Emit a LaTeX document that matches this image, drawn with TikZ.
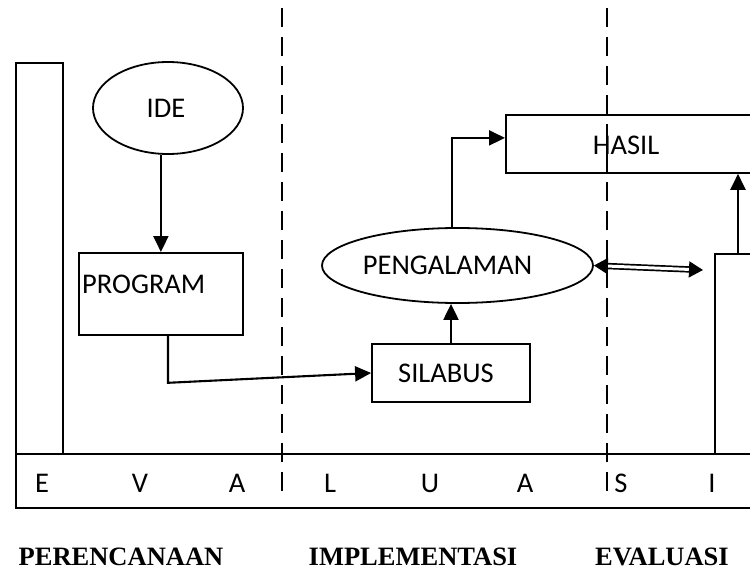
\documentclass[tikz,border=0pt]{standalone}
\usepackage{fontspec}
\setmainfont{Carlito}
\newfontfamily\labelfont{Liberation Serif}
\usetikzlibrary{shapes.geometric,arrows.meta}
\begin{document}
\begin{tikzpicture}[x=1pt,y=-1pt,
  every node/.style={font=\fontsize{28.5}{31}\selectfont},
  box/.style={draw,line width=1.8pt,inner sep=0pt},
  oval/.style={draw,ellipse,line width=1.8pt,inner sep=0pt},
  arr/.style={line width=2.1pt,-{Triangle[length=16pt,width=15pt]}},
  dbl/.style={line width=1.7pt,double distance=3pt,{Triangle[length=14pt,width=16pt]}-{Triangle[length=14pt,width=16pt]}},
  dashline/.style={line width=2.4pt,dash pattern=on 19pt off 10pt},
  letter/.style={anchor=base,inner sep=0pt},
  phase/.style={anchor=base,inner sep=0pt,font=\labelfont\bfseries\fontsize{26.5}{29}\selectfont}]
\useasboundingbox (0,0) rectangle (750,578);
\clip (0,0) rectangle (750,578);
\fill[white] (0,0) rectangle (750,578);

% frame pieces
\node[box,anchor=north west,minimum width=47pt,minimum height=391pt] (lbar) at (15,62) {};
\node[box,anchor=north west,minimum width=780pt,minimum height=54pt] (band) at (15,453) {};
\node[box,anchor=north west,minimum width=80pt,minimum height=200pt] (rbox) at (714,253) {};

% band letters
\node[letter] (l1) at (42,492) {E};
\node[letter] (l2) at (140,492) {V};
\node[letter] (l3) at (237,492) {A};
\node[letter] (l4) at (330,492) {L};
\node[letter] (l5) at (430,492) {U};
\node[letter] (l6) at (525,492) {A};
\node[letter] (l7) at (621,492) {S};
\node[letter] (l8) at (712,492) {I};

% dashed separators
\coordinate (d1t) at (282,8);
\coordinate (d1b) at (282,498);
\coordinate (d2t) at (607,8);
\coordinate (d2b) at (607,498);
\draw[dashline] (d1t) -- (d1b);
\draw[dashline] (d2t) -- (d2b);

% main nodes
\node[oval,minimum width=150pt,minimum height=92pt] (ide) at (168,108) {\hspace*{-4pt}IDE};
\node[box,anchor=north west,minimum width=164pt,minimum height=82pt] (program) at (78,252) {};
\node[anchor=west,inner sep=0pt] (programtxt) at (82,284) {PROGRAM};
\node[box,minimum width=158pt,minimum height=58pt] (silabus) at (451,373) {\hspace*{-10pt}SILABUS};
\node[oval,minimum width=271pt,minimum height=75pt] (peng) at (457.5,265.5) {\hspace*{-20pt}PENGALAMAN};
\node[box,anchor=north west,minimum width=300pt,minimum height=58pt] (hasil) at (505,114) {};
\node[inner sep=0pt] (hasiltxt) at (626,145) {HASIL};
\coordinate (dblend) at (703,270);

% connectors
\draw[arr] (ide.south -| program.north) -- (program.north);
\draw[arr] (program.south -| ide.center) -- ++(0,47) -- (silabus.west);
\draw[arr] (silabus.north) -- (silabus.north |- peng.south);
\draw[arr] (peng.north -| 452,0) |- ([yshift=6pt]hasil.west);
\draw[arr] ([xshift=24pt]rbox.north west) -- ([xshift=24pt]rbox.north west |- hasil.south);
\draw[dbl] (peng.east) -- (dblend);

% phase labels
\node[phase] (p1) at (121,565) {PERENCANAAN};
\node[phase] (p2) at (413,565) {IMPLEMENTASI};
\node[phase] (p3) at (662,565) {EVALUASI};
\end{tikzpicture}
\end{document}
